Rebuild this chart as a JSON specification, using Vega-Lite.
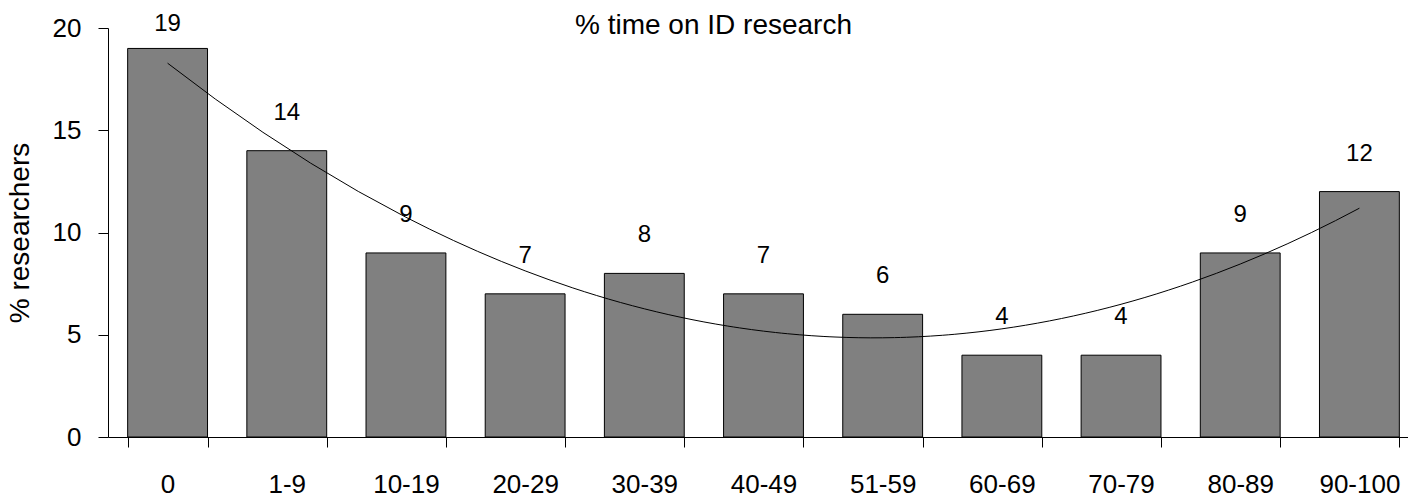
{
  "$schema": "https://vega.github.io/schema/vega-lite/v6.json",
  "autosize": "none",
  "width": 1311,
  "height": 409,
  "padding": {"left": 108, "top": 28, "right": 0, "bottom": 60},
  "background": "white",
  "config": {
    "view": {"stroke": null},
    "font": "Liberation Sans",
    "text": {"font": "Liberation Sans"}
  },
  "title": {
    "text": "% time on ID research",
    "font": "Liberation Sans",
    "fontSize": 28,
    "fontWeight": "normal",
    "color": "#000000",
    "anchor": "middle",
    "baseline": "alphabetic",
    "offset": -50,
    "dx": -50
  },
  "data": {
    "values": [
      {"i": 0, "cat": "0", "pct": 19},
      {"i": 1, "cat": "1-9", "pct": 14},
      {"i": 2, "cat": "10-19", "pct": 9},
      {"i": 3, "cat": "20-29", "pct": 7},
      {"i": 4, "cat": "30-39", "pct": 8},
      {"i": 5, "cat": "40-49", "pct": 7},
      {"i": 6, "cat": "51-59", "pct": 6},
      {"i": 7, "cat": "60-69", "pct": 4},
      {"i": 8, "cat": "70-79", "pct": 4},
      {"i": 9, "cat": "80-89", "pct": 9},
      {"i": 10, "cat": "90-100", "pct": 12}
    ]
  },
  "layer": [
    {
      "encoding": {
        "x": {
          "field": "cat", "type": "nominal", "sort": null,
          "scale": {"paddingInner": 0.33, "paddingOuter": 0.165},
          "axis": {
            "title": null, "labelAngle": 0, "labelFontSize": 26, "labelColor": "#000000",
            "labelFont": "Liberation Sans",
            "labelBaseline": "alphabetic", "labelPadding": 45,
            "tickBand": "extent", "tickSize": 10, "tickColor": "#000000",
            "domainColor": "#000000", "grid": false
          }
        },
        "y": {
          "field": "pct", "type": "quantitative",
          "scale": {"domain": [0, 20], "nice": false},
          "axis": {
            "title": "% researchers", "titleFontSize": 28, "titleFontWeight": "normal",
            "titleFont": "Liberation Sans", "titleColor": "#000000", "titlePadding": 18,
            "values": [0, 5, 10, 15, 20], "labelFontSize": 26, "labelColor": "#000000",
            "labelFont": "Liberation Sans", "labelPadding": 17,
            "tickSize": 10, "tickColor": "#000000", "domainColor": "#000000", "grid": false
          }
        }
      },
      "layer": [
        {
          "mark": {"type": "bar", "fill": "#808080", "stroke": "#000000", "strokeWidth": 1}
        },
        {
          "transform": [{"filter": "datum.pct < 19"}],
          "mark": {"type": "text", "fontSize": 24, "baseline": "alphabetic", "dy": -31, "color": "#000000"},
          "encoding": {"text": {"field": "pct", "type": "quantitative"}}
        },
        {
          "transform": [{"filter": "datum.pct >= 19"}],
          "mark": {"type": "text", "fontSize": 24, "baseline": "alphabetic", "dy": -17, "color": "#000000"},
          "encoding": {"text": {"field": "pct", "type": "quantitative"}}
        }
      ]
    },
    {
      "transform": [{"regression": "pct", "on": "i", "method": "poly", "order": 2}],
      "mark": {"type": "line", "color": "#000000", "strokeWidth": 1},
      "encoding": {
        "x": {"field": "i", "type": "quantitative", "scale": {"domain": [-0.5, 10.5], "nice": false, "zero": false}, "axis": null},
        "y": {"field": "pct", "type": "quantitative"}
      }
    }
  ],
  "resolve": {"scale": {"x": "independent"}, "axis": {"x": "independent"}}
}
